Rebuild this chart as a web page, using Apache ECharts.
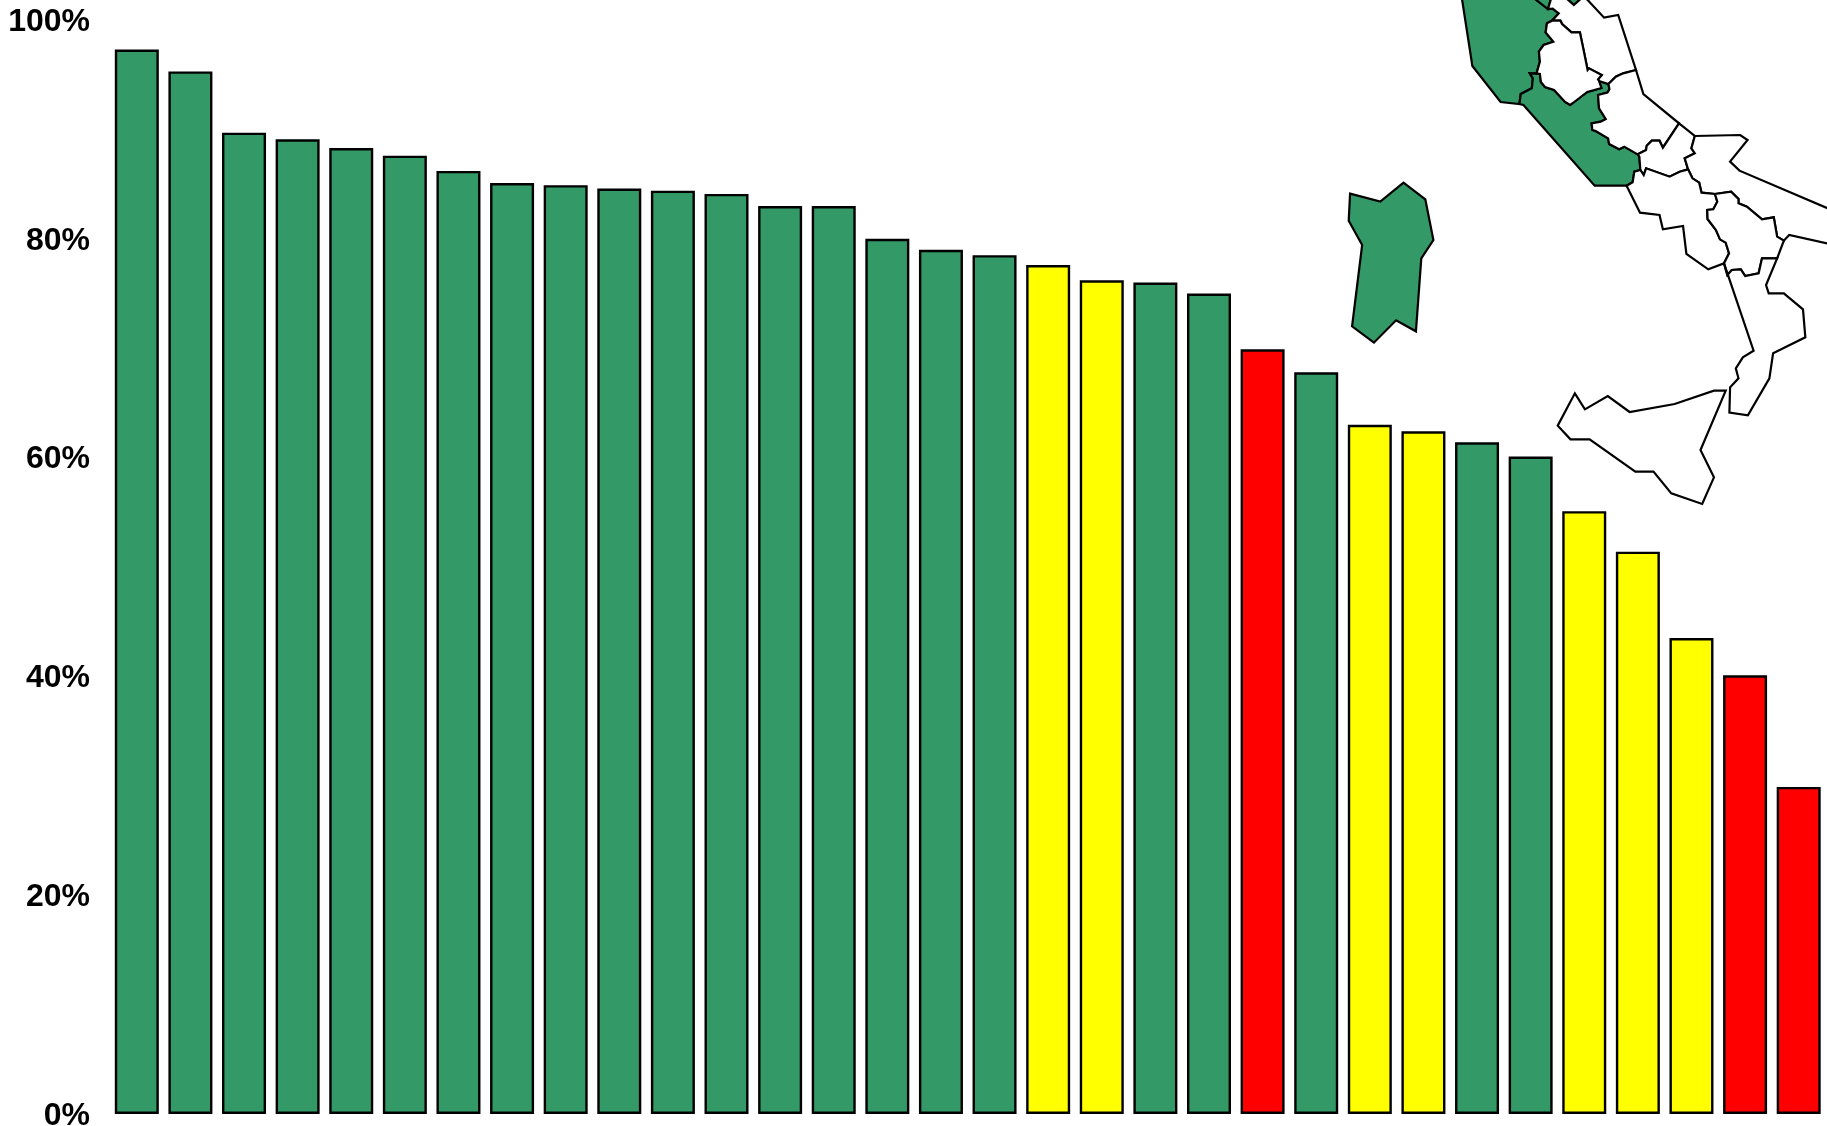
<!DOCTYPE html>
<html>
<head>
<meta charset="utf-8">
<style>html,body{margin:0;padding:0;background:#fff}#c{width:1827px;height:1126px}</style>
<script src="https://cdn.jsdelivr.net/npm/echarts@6/dist/echarts.min.js"></script>
</head>
<body>
<div id="c"></div>
<script>
// Bars, in the order drawn
const categories = ['1','2','3','4','5','6','7','8','9','10','11','12','13','14','15','16','17','18','19','20','21','22','23','24','25','26','27','28','29','30','31','32'];
const values = [97.3,95.3,89.7,89.1,88.3,87.6,86.2,85.1,84.9,84.6,84.4,84.1,83.0,83.0,80.0,79.0,78.5,77.6,76.2,76.0,75.0,69.9,67.8,63.0,62.4,61.4,60.1,55.1,51.4,43.5,40.1,29.9];
const status = ['g','g','g','g','g','g','g','g','g','g','g','g','g','g','g','g','g','y','y','g','g','r','g','y','y','g','g','y','y','y','r','r'];
const statusColor = {g:'#339966', y:'#ffff00', r:'#ff0000'};
const yTicks = {min:0, max:100, interval:20};

// Outline of the map inset
const tuscany = [[481,-10],[513,198],[597,306],[653,312],[657,282],[690,265],[693,235],[684,220],[704,220],[714,185],[711,155],[725,135],[754,125],[731,97],[735,70],[750,62],[770,40],[752,26],[738,27],[692,-10]];
const emiliaA = [[677,-20],[738,27],[752,-20]];
const emiliaB = [[785,-12],[815,15],[845,-12]];
const marche = [[752,-20],[738,27],[752,26],[770,40],[750,62],[775,62],[780,72],[808,97],[833,97],[847,165],[856,210],[860,205],[898,225],[887,238],[890,243],[918,252],[940,230],[962,220],[1000,210],[947,45],[905,53],[845,-12],[815,15],[785,-12]];
const umbria = [[750,62],[775,62],[780,72],[808,97],[833,97],[847,165],[856,210],[860,205],[898,225],[887,238],[890,243],[897,264],[855,276],[816,306],[804,315],[789,306],[756,270],[729,261],[717,246],[714,222],[704,220],[714,185],[711,155],[725,135],[754,125],[731,97],[735,70]];
const lazio = [[684,220],[693,235],[690,265],[657,282],[653,312],[665,315],[877,557],[972,557],[990,547],[995,515],[1013,510],[1010,470],[1005,463],[965,440],[950,448],[920,432],[917,415],[880,393],[870,390],[868,370],[895,365],[910,357],[890,325],[887,285],[915,278],[921,268],[918,252],[890,243],[897,264],[855,276],[816,306],[804,315],[789,306],[756,270],[729,261],[717,246],[714,222]];
const abruzzo = [[1000,210],[1022,282],[1128,370],[1080,443],[1070,422],[1047,422],[1032,437],[1030,450],[1005,463],[965,440],[950,448],[920,432],[917,415],[880,393],[870,390],[868,370],[895,365],[910,357],[890,325],[887,285],[915,278],[921,268],[918,252],[940,230],[962,220]];
const molise = [[1128,370],[1175,408],[1165,445],[1175,460],[1145,475],[1155,508],[1130,515],[1100,530],[1030,505],[1023,525],[1013,510],[1010,470],[1005,463],[1030,450],[1032,437],[1047,422],[1070,422],[1080,443]];
const puglia = [[1175,408],[1310,405],[1332,420],[1280,485],[1308,512],[1640,655],[1640,746],[1456,705],[1440,722],[1420,710],[1410,652],[1375,658],[1330,620],[1305,610],[1305,597],[1283,575],[1235,582],[1195,578],[1188,548],[1168,535],[1155,508],[1145,475],[1175,460],[1165,445]];
const campania = [[972,557],[1012,638],[1070,645],[1080,688],[1140,678],[1150,762],[1215,808],[1262,790],[1277,760],[1267,728],[1250,718],[1238,690],[1213,657],[1212,630],[1230,628],[1242,605],[1235,582],[1195,578],[1188,548],[1168,535],[1155,508],[1130,515],[1100,530],[1030,505],[1023,525],[1013,510],[995,515],[990,547]];
const basilicata = [[1235,582],[1283,575],[1305,597],[1305,610],[1330,620],[1375,658],[1410,652],[1420,710],[1440,722],[1420,775],[1375,775],[1365,820],[1325,828],[1312,808],[1285,810],[1272,825],[1262,790],[1277,760],[1267,728],[1250,718],[1238,690],[1213,657],[1212,630],[1230,628],[1242,605]];
const calabria = [[1262,790],[1272,825],[1285,810],[1312,808],[1325,828],[1365,820],[1375,775],[1420,775],[1387,855],[1395,880],[1440,880],[1497,928],[1504,1012],[1408,1060],[1397,1135],[1333,1246],[1278,1238],[1280,1162],[1305,1135],[1297,1105],[1318,1072],[1350,1052]];
const sicily = [[818,1180],[848,1228],[916,1188],[981,1236],[1115,1212],[1232,1172],[1267,1172],[1192,1350],[1232,1432],[1197,1512],[1105,1480],[1052,1415],[998,1415],[862,1318],[805,1318],[767,1277]];
const sardinia = [[149,581],[239,605],[308,548],[373,598],[397,720],[361,775],[345,994],[286,961],[220,1028],[155,979],[185,735],[145,662]];

const regions = {
  tuscany:[tuscany], emilia:[emiliaA,emiliaB], lazio:[lazio], sardinia:[sardinia],
  marche:[marche], umbria:[umbria], abruzzo:[abruzzo], molise:[molise], puglia:[puglia],
  campania:[campania], basilicata:[basilicata], calabria:[calabria], sicily:[sicily]
};
const greenRegions = ['tuscany','emilia','lazio','sardinia'];

// trace frame -> picture pixels
const toPx = p => [1300 + p[0]*1.008/3, p[1]/3];
let xs=[], ys=[];
const features = Object.keys(regions).map(name => {
  const polys = regions[name].map(r => { const ring = r.map(toPx); ring.forEach(q=>{xs.push(q[0]);ys.push(q[1]);}); ring.push(ring[0]); return [ring.map(q=>[q[0],-q[1]])]; });
  return {type:'Feature', properties:{name}, geometry:{type:'MultiPolygon', coordinates:polys}};
});
echarts.registerMap('inset', {type:'FeatureCollection', features});
const x0=Math.min(...xs), x1=Math.max(...xs), y0=Math.min(...ys), y1=Math.max(...ys);

const labelFont = {color:'#000', fontFamily:'"Liberation Sans", Arial, sans-serif', fontWeight:'bold', fontSize:32};
const chart = echarts.init(document.getElementById('c'), null, {width:1827, height:1126});
chart.setOption({
  animation:false,
  backgroundColor:'#fff',
  grid:{left:110, right:1.5, top:20, bottom:12, containLabel:false, outerBoundsMode:'none'},
  xAxis:{type:'category', data:categories, show:false},
  yAxis:{type:'value', min:yTicks.min, max:yTicks.max, interval:yTicks.interval,
    axisLine:{show:false}, axisTick:{show:false}, splitLine:{show:false},
    axisLabel:Object.assign({formatter:'{a|{value}%}', margin:20, rich:{a:Object.assign({padding:[4,0,0,0]}, labelFont)}}, labelFont)},
  geo:{map:'inset', roam:false, silent:true, aspectScale:1,
    layoutCenter:[(x0+x1)/2,(y0+y1)/2], layoutSize:Math.max(x1-x0,y1-y0),
    label:{show:false},
    itemStyle:{areaColor:'#fff', borderColor:'#000', borderWidth:2.2},
    regions:greenRegions.map(name=>({name, itemStyle:{areaColor:'#339966', borderColor:'#000', borderWidth:2.2}}))},
  series:[{type:'bar', barWidth:44, silent:true,
    data:values.map((v,i)=>({value:v, itemStyle:{color:statusColor[status[i]]}})),
    itemStyle:{borderColor:'#000', borderWidth:2.4}}]
});
</script>
</body>
</html>
